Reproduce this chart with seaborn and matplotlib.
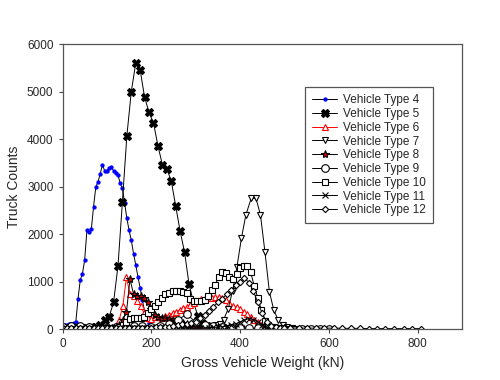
import matplotlib
matplotlib.use('Agg')
import matplotlib.pyplot as plt
import numpy as np
import seaborn as sns

# gross vehicle weight (kN) grids and truck counts per vehicle type
x4 = np.arange(0, 305, 5)
y4 = [20, 80, 90, 110, 100, 130, 150, 640, 1030, 1170, 1460, 2080, 2040, 2110, 2580, 2990,
      3100, 3270, 3460, 3330, 3320, 3390, 3420, 3330, 3290, 3240, 3070, 2960, 2650, 2330,
      2080, 1870, 1590, 1350, 1100, 860, 610, 365, 225, 120, 50, 40, 30, 25, 20, 20, 15,
      15, 10, 10, 10, 10, 5, 5, 5, 5, 0, 0, 0, 0, 0]

x5 = np.arange(5, 395, 10)
y5 = [10, 15, 20, 20, 25, 30, 40, 50, 80, 190, 260, 560, 1330, 2680, 4070, 5000, 5600,
      5450, 4880, 4560, 4340, 3860, 3460, 3370, 3120, 2590, 2060, 1620, 950, 560, 280,
      120, 60, 40, 30, 20, 10, 5, 0]

x6 = np.arange(0, 488, 8)
y6 = [10, 5, 5, 5, 5, 5, 5, 5, 5, 10, 10, 10, 15, 20, 30, 60, 200, 490, 1090, 740, 690,
      600, 480, 330, 240, 220, 250, 260, 240, 270, 300, 340, 370, 400, 440, 470, 510, 550,
      600, 630, 640, 650, 660, 670, 665, 650, 610, 540, 490, 460, 420, 370, 310, 250, 190,
      140, 85, 30, 10, 5, 0]

x7 = list(range(5, 365, 10)) + [363, 373, 383, 393, 403, 413, 425, 436, 446, 456, 466,
                                 476, 486, 496, 506, 516, 526, 536, 546, 556]
y7 = [0, 5, 5, 5, 5, 5, 5, 5, 10, 10, 10, 10, 10, 10, 15, 15, 15, 15, 20, 20, 20, 20, 25,
      25, 30, 30, 30, 35, 40, 40, 45, 50, 60, 70, 85, 110,
      200, 420, 800, 1310, 1910, 2400, 2750, 2750, 2400, 1630, 790, 400, 190, 80, 40, 20,
      10, 5, 0, 0]

x8 = np.arange(0, 416, 8)
y8 = [5, 5, 5, 5, 5, 5, 5, 5, 10, 10, 10, 15, 15, 20, 20, 30, 80, 200, 350, 1050, 740,
      700, 690, 660, 560, 420, 300, 260, 240, 230, 210, 190, 160, 140, 120, 100, 85, 70,
      60, 50, 45, 40, 35, 30, 25, 20, 15, 10, 10, 5, 5, 0]

x9 = np.arange(0, 620, 20)
y9 = [50, 70, 60, 40, 30, 30, 40, 50, 60, 60, 50, 60, 100, 200, 310, 150, 80, 60, 40, 30,
      30, 20, 20, 20, 15, 10, 10, 10, 10, 10, 10]

x10 = np.arange(0, 528, 8)
y10 = [10, 10, 10, 10, 10, 10, 10, 10, 10, 10, 15, 15, 15, 20, 20, 20, 40, 80, 150, 220,
       225, 225, 230, 260, 330, 420, 480, 560, 650, 730, 770, 800, 810, 800, 790, 760, 640,
       600, 600, 590, 620, 700, 820, 930, 1100, 1200, 1180, 1100, 1050, 1150, 1280, 1330,
       1320, 1200, 900, 660, 400, 180, 80, 40, 30, 20, 15, 10, 5, 0]

x11 = np.arange(0, 510, 10)
y11 = [5, 10, 10, 10, 10, 10, 10, 10, 10, 10, 10, 10, 10, 15, 15, 15, 15, 15, 15, 20, 20,
       20, 20, 20, 20, 20, 20, 20, 20, 20, 20, 25, 25, 30, 35, 40, 50, 60, 80, 110, 150,
       190, 220, 200, 150, 90, 40, 15, 5, 0, 0]

x12 = list(range(0, 510, 10)) + [513, 532, 551, 570, 589, 611, 630, 649, 671, 690, 709,
                                  727, 746, 769, 788, 807]
y12 = [20, 30, 30, 20, 20, 20, 20, 20, 20, 20, 20, 20, 20, 20, 20, 30, 30, 30, 30, 30, 30,
       40, 40, 50, 50, 60, 80, 100, 110, 130, 150, 230, 300, 380, 470, 560, 640, 730, 820,
       920, 1000, 1070, 980, 800, 560, 330, 150, 70, 40, 30, 30,
       25, 20, 20, 20, 20, 20, 15, 15, 15, 10, 10, 10, 10, 10, 10, 10]

sns.set_style('white')
plt.rcParams['font.family'] = ['Liberation Sans', 'DejaVu Sans']

fig = plt.figure(figsize=(5, 3.8), dpi=100)
ax = fig.add_axes([0.125, 0.134, 0.799, 0.750])

styles = [
    ('Vehicle Type 4', x4, y4, dict(color='black', marker='o', markersize=2.3, markerfacecolor='blue', markeredgecolor='blue')),
    ('Vehicle Type 5', x5, y5, dict(color='black', marker='X', markersize=5.5, markerfacecolor='black', markeredgecolor='black')),
    ('Vehicle Type 6', x6, y6, dict(color='red', marker='^', markersize=5, markerfacecolor='white', markeredgecolor='red')),
    ('Vehicle Type 7', x7, y7, dict(color='black', marker='v', markersize=4.8, markerfacecolor='white', markeredgecolor='black')),
    ('Vehicle Type 8', x8, y8, dict(color='black', marker='*', markersize=6, markerfacecolor='#cc0000', markeredgecolor='black')),
    ('Vehicle Type 9', x9, y9, dict(color='black', marker='o', markersize=5.5, markerfacecolor='white', markeredgecolor='black')),
    ('Vehicle Type 10', x10, y10, dict(color='black', marker='s', markersize=4.8, markerfacecolor='white', markeredgecolor='black')),
    ('Vehicle Type 11', x11, y11, dict(color='black', marker='x', markersize=5, markerfacecolor='black', markeredgecolor='black')),
    ('Vehicle Type 12', x12, y12, dict(color='black', marker='D', markersize=3.2, markerfacecolor='white', markeredgecolor='black')),
]

for name, xs, ys, kw in styles:
    sns.lineplot(x=xs, y=ys, ax=ax, label=name, linewidth=0.7, markeredgewidth=0.8, sort=False, **kw)

ax.set_xlim(0, 900)
ax.set_ylim(0, 6000)
ax.set_xticks([0, 200, 400, 600, 800])
ax.set_yticks([0, 1000, 2000, 3000, 4000, 5000, 6000])
ax.tick_params(labelsize=8.5, length=3, width=0.8, direction='out', color='#444444')
ax.tick_params(axis='both', which='both', bottom=True, left=True)
for sp in ax.spines.values():
    sp.set_color('#555555')
    sp.set_linewidth(0.9)
ax.set_xlabel('Gross Vehicle Weight (kN)', fontsize=10)
ax.set_ylabel('Truck Counts', fontsize=10)

leg = ax.legend(loc='upper left', bbox_to_anchor=(0.6077, 0.849), borderaxespad=0,
                fontsize=8.5, frameon=True, fancybox=False, edgecolor='#555555',
                framealpha=1, handlelength=2.1, handletextpad=0.5,
                labelspacing=0.15, borderpad=0.6)
leg.get_frame().set_linewidth(0.9)

fig.savefig('out.png', dpi=100)
